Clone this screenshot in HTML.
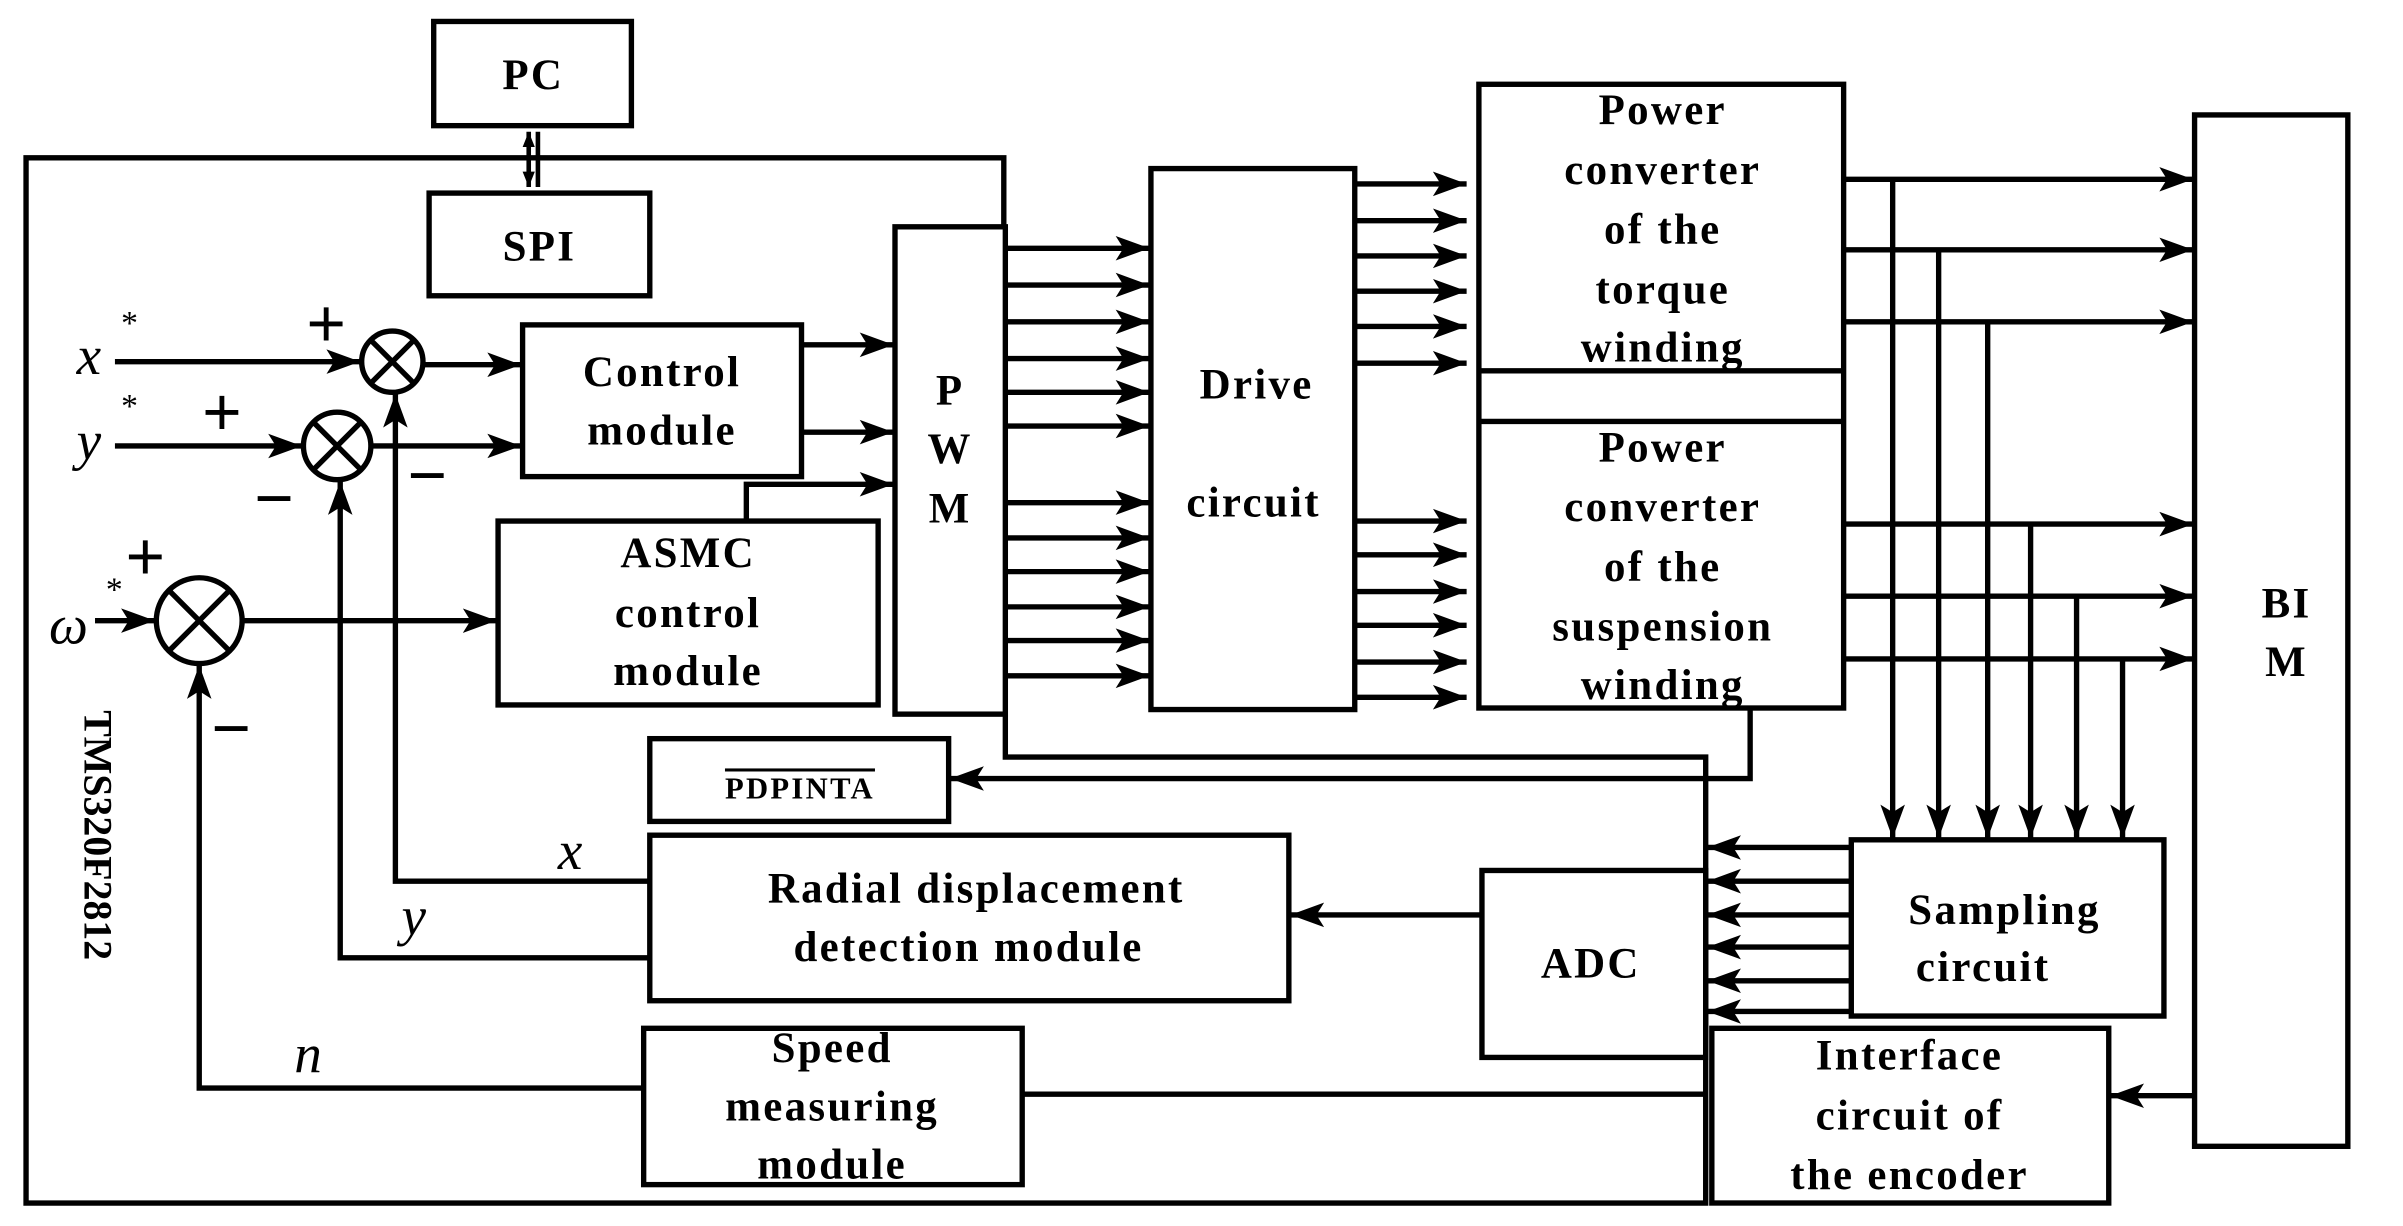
<!DOCTYPE html>
<html><head><meta charset="utf-8"><style>html,body{margin:0;padding:0;background:#fff}svg{display:block}
.t{font-family:"Liberation Serif","DejaVu Serif",serif;font-weight:bold;font-size:28px;letter-spacing:1.5px}
.i{font-family:"Liberation Serif","DejaVu Serif",serif;font-style:italic;font-size:36px}
.s{font-family:"Liberation Sans",sans-serif;font-size:44px}
</style></head>
<body>
<svg width="2403" height="1226" viewBox="0 0 1568 800" preserveAspectRatio="none" xmlns="http://www.w3.org/2000/svg">
<defs>
<marker id="a" markerWidth="24" markerHeight="18" refX="22" refY="9" orient="auto" markerUnits="userSpaceOnUse">
<path d="M0,1 L22,9 L0,17 L5,9 Z" fill="#000"/></marker>
<marker id="b" markerWidth="12" markerHeight="10" refX="10" refY="5" orient="auto-start-reverse" markerUnits="userSpaceOnUse">
<path d="M0,1 L10,5 L0,9 Z" fill="#000"/></marker>
</defs>
<g fill="none" stroke="#000" stroke-width="3.5">
<path d="M655,148 V103 H17 V785 H1113 V494 H656 V466"/>
<rect x="283" y="14" width="129" height="68"/>
<rect x="280" y="126" width="144" height="67"/>
<rect x="584" y="148" width="72" height="318"/>
<rect x="341" y="212" width="182" height="99"/>
<rect x="325" y="340" width="248" height="120"/>
<rect x="751" y="110" width="133" height="353"/>
<rect x="965" y="55" width="238" height="407"/>
<line x1="965" y1="242" x2="1203" y2="242"/>
<line x1="965" y1="275" x2="1203" y2="275"/>
<rect x="1432" y="75" width="100" height="673"/>
<rect x="424" y="482" width="195" height="54"/>
<rect x="424" y="545" width="417" height="108"/>
<rect x="420" y="671" width="247" height="102"/>
<rect x="967" y="568" width="146" height="122"/>
<rect x="1208" y="548" width="204" height="115"/>
<rect x="1117" y="671" width="259" height="114"/>
<circle cx="256" cy="236" r="20"/><path d="M242,222 L270,250 M270,222 L242,250"/>
<circle cx="220" cy="291" r="22"/><path d="M204,275 L236,307 M236,275 L204,307"/>
<circle cx="130" cy="405" r="28"/><path d="M110,385 L150,425 M150,385 L110,425"/>
</g>
<g fill="none" stroke="#000" stroke-width="3">
<line x1="345" y1="86" x2="345" y2="122" marker-end="url(#b)" marker-start="url(#b)"/>
<line x1="351" y1="86" x2="351" y2="122"/>
</g>
<g fill="none" stroke="#000" stroke-width="3.5" marker-end="url(#a)">
<line x1="75" y1="236" x2="235" y2="236"/>
<line x1="75" y1="291" x2="197" y2="291"/>
<line x1="62" y1="405" x2="101" y2="405"/>
<line x1="276" y1="238" x2="340" y2="238"/>
<line x1="242" y1="291" x2="340" y2="291"/>
<line x1="158" y1="405" x2="324" y2="405"/>
<line x1="523" y1="225" x2="583" y2="225"/>
<line x1="523" y1="282" x2="583" y2="282"/>
<path d="M487,340 V316 H583"/>
<path d="M424,575 H258 V257"/>
<path d="M424,625 H222 V314"/>
<path d="M420,710 H130 V434"/>
<line x1="967" y1="597" x2="842" y2="597"/>
<path d="M1142,462 V508 H620"/>
<line x1="656" y1="162" x2="750" y2="162"/><line x1="656" y1="186" x2="750" y2="186"/><line x1="656" y1="210" x2="750" y2="210"/><line x1="656" y1="234" x2="750" y2="234"/><line x1="656" y1="256" x2="750" y2="256"/><line x1="656" y1="278" x2="750" y2="278"/>
<line x1="656" y1="328" x2="750" y2="328"/><line x1="656" y1="351" x2="750" y2="351"/><line x1="656" y1="373" x2="750" y2="373"/><line x1="656" y1="396" x2="750" y2="396"/><line x1="656" y1="418" x2="750" y2="418"/><line x1="656" y1="441" x2="750" y2="441"/>
<line x1="884" y1="120" x2="957" y2="120"/><line x1="884" y1="144" x2="957" y2="144"/><line x1="884" y1="167" x2="957" y2="167"/><line x1="884" y1="190" x2="957" y2="190"/><line x1="884" y1="213" x2="957" y2="213"/><line x1="884" y1="237" x2="957" y2="237"/>
<line x1="884" y1="340" x2="957" y2="340"/><line x1="884" y1="362" x2="957" y2="362"/><line x1="884" y1="386" x2="957" y2="386"/><line x1="884" y1="408" x2="957" y2="408"/><line x1="884" y1="432" x2="957" y2="432"/><line x1="884" y1="455" x2="957" y2="455"/>
<line x1="1203" y1="117" x2="1431" y2="117"/><line x1="1203" y1="163" x2="1431" y2="163"/><line x1="1203" y1="210" x2="1431" y2="210"/>
<line x1="1203" y1="342" x2="1431" y2="342"/><line x1="1203" y1="389" x2="1431" y2="389"/><line x1="1203" y1="430" x2="1431" y2="430"/>
<line x1="1235" y1="117" x2="1235" y2="547"/><line x1="1265" y1="163" x2="1265" y2="547"/><line x1="1297" y1="210" x2="1297" y2="547"/><line x1="1325" y1="342" x2="1325" y2="547"/><line x1="1355" y1="389" x2="1355" y2="547"/><line x1="1385" y1="430" x2="1385" y2="547"/>
<line x1="1208" y1="553" x2="1114" y2="553"/><line x1="1208" y1="575" x2="1114" y2="575"/><line x1="1208" y1="597" x2="1114" y2="597"/><line x1="1208" y1="618" x2="1114" y2="618"/><line x1="1208" y1="640" x2="1114" y2="640"/><line x1="1208" y1="660" x2="1114" y2="660"/>
<line x1="1432" y1="715" x2="1377" y2="715"/>
</g>
<line x1="667" y1="714" x2="1113" y2="714" stroke="#000" stroke-width="3.5"/>
<g text-anchor="middle" fill="#000" class="t">
<text class="t" x="348" y="58">PC</text>
<text class="t" x="352" y="170">SPI</text>
<text class="t" x="432" y="252">Control</text><text class="t" x="432" y="290">module</text>
<text class="t" x="449" y="370">ASMC</text><text class="t" x="449" y="409">control</text><text class="t" x="449" y="447">module</text>
<text class="t" x="620" y="264">P</text><text class="t" x="620" y="302">W</text><text class="t" x="620" y="341">M</text>
<text class="t" x="820" y="260">Drive</text><text class="t" x="818" y="337">circuit</text>
<text class="t" x="1085" y="81">Power</text><text class="t" x="1085" y="120">converter</text><text class="t" x="1085" y="159">of the</text><text class="t" x="1085" y="198">torque</text><text class="t" x="1085" y="236">winding</text>
<text class="t" x="1085" y="301">Power</text><text class="t" x="1085" y="340">converter</text><text class="t" x="1085" y="379">of the</text><text class="t" x="1085" y="418">suspension</text><text class="t" x="1085" y="456">winding</text>
<text class="t" x="1492" y="403">BI</text><text class="t" x="1492" y="441">M</text>
<text class="t" x="522" y="521" style="font-size:20px" text-decoration="overline">PDPINTA</text>
<text class="t" x="637" y="589">Radial displacement</text><text class="t" x="632" y="627">detection module</text>
<text class="t" x="543" y="693">Speed</text><text class="t" x="543" y="731">measuring</text><text class="t" x="543" y="769">module</text>
<text class="t" x="1038" y="638">ADC</text>
<text class="t" x="1308" y="603">Sampling</text><text class="t" x="1294" y="640">circuit</text>
<text class="t" x="1246" y="698">Interface</text><text class="t" x="1246" y="737">circuit of</text><text class="t" x="1246" y="776">the encoder</text>
<text class="t" x="55" y="545" style="font-size:26px;letter-spacing:0" transform="rotate(90 55 545)">TMS320F2812</text>
</g>
<g fill="#000">
<text class="i" x="50" y="244">x</text><text class="i" x="78" y="218" style="font-size:22px">*</text>
<text class="i" x="50" y="300">y</text><text class="i" x="78" y="272" style="font-size:22px">*</text>
<text class="i" x="32" y="420">ω</text><text class="i" x="68" y="392" style="font-size:22px">*</text>
<text class="i" x="364" y="567">x</text>
<text class="i" x="262" y="610">y</text>
<text class="i" x="192" y="700">n</text>
</g>
<g fill="#000">
<text class="s" x="200" y="226">+</text>
<text class="s" x="132" y="284">+</text>
<text class="s" x="82" y="378">+</text>
<text class="s" x="166" y="340">−</text>
<text class="s" x="266" y="325">−</text>
<text class="s" x="138" y="490">−</text>
</g>
</svg>
</body></html>
